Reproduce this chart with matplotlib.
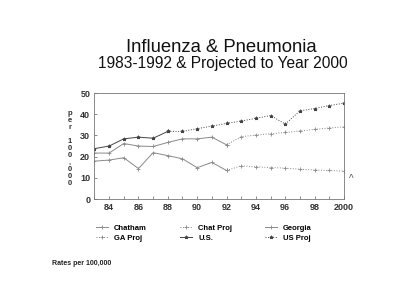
import matplotlib
matplotlib.use("Agg")
import matplotlib.pyplot as plt

years_actual = [1983, 1984, 1985, 1986, 1987, 1988, 1989, 1990, 1991, 1992]
chatham = [17.9, 18.4, 19.5, 14.4, 21.9, 20.5, 19.0, 14.8, 17.3, 13.5]
georgia = [21.7, 21.7, 26.2, 25.0, 24.8, 26.7, 28.4, 28.4, 29.2, 25.6]
us_years = [1983, 1984, 1985, 1986, 1987, 1988]
us = [23.8, 25.0, 28.4, 29.2, 28.7, 31.9]

proj_years = [1992, 1993, 1994, 1995, 1996, 1997, 1998, 1999, 2000]
chat_proj = [13.5, 15.7, 15.2, 14.9, 14.6, 14.1, 13.7, 13.5, 13.2]
ga_proj = [25.6, 29.4, 30.2, 30.8, 31.4, 32.1, 32.9, 33.5, 34.1]
us_proj_years = [1988, 1989, 1990, 1991, 1992, 1993, 1994, 1995, 1996, 1997, 1998, 1999, 2000]
us_proj = [31.9, 31.9, 33.2, 34.4, 35.7, 36.8, 38.1, 39.4, 35.4, 41.6, 42.7, 44.1, 45.2]

xticks = [1984, 1986, 1988, 1990, 1992, 1994, 1996, 1998, 2000]
xticklabels = ["84", "86", "88", "90", "92", "94", "96", "98", "2000"]
yticks = [0, 10, 20, 30, 40, 50]

plt.rcParams['font.family'] = ['Liberation Sans', 'DejaVu Sans']

fig = plt.figure(figsize=(4.0, 3.04), dpi=100)
ax = fig.add_axes([0.236, 0.345, 0.624, 0.349])

light = "#8a8a8a"
dark = "#444444"
ax.plot(years_actual, chatham, color=light, lw=0.7, marker="+", ms=2.5, mew=0.6, label="Chatham")
ax.plot(proj_years, chat_proj, color=light, lw=0.7, ls=":", marker="+", ms=2.5, mew=0.6, label="Chat Proj")
ax.plot(years_actual, georgia, color=light, lw=0.7, marker="+", ms=2.5, mew=0.6, label="Georgia")
ax.plot(proj_years, ga_proj, color=light, lw=0.7, ls=":", marker="+", ms=2.5, mew=0.6, label="GA Proj")
ax.plot(us_years, us, color=dark, lw=0.7, marker="*", ms=2.5, mew=0.6, label="U.S.")
ax.plot(us_proj_years, us_proj, color=dark, lw=0.7, ls=":", marker="*", ms=2.5, mew=0.6, label="US Proj")

ax.set_xlim(1983, 2000)
ax.set_ylim(0, 50)
ax.set_xticks(xticks)
ax.set_xticklabels(xticklabels, fontsize=6.5, fontweight="bold", color="#333333")
ax.set_xticks(range(1983, 2001), minor=True)
ax.set_yticks(yticks)
ax.set_yticklabels([str(v) for v in yticks], fontsize=6.5, fontweight="bold", color="#333333")
ax.tick_params(axis="both", which="both", length=2.5, width=0.6, color="#777777", direction="in", pad=3)
for s in ax.spines.values():
    s.set_linewidth(0.6)
    s.set_color("#777777")

# stacked y label
ylab = "\n".join(list("per 100,000"))
fig.text(0.175, 0.513, ylab, ha="center", va="center", fontsize=5.5, fontweight="bold",
         color="#333333", linespacing=1.0)

fig.text(0.553, 0.845, "Influenza & Pneumonia", ha="center", va="center", fontsize=13.3, color="#111111")
fig.text(0.556, 0.79, "1983-1992 & Projected to Year 2000", ha="center", va="center", fontsize=11.2, color="#111111")

ax.text(1.03, 0.19, "^", transform=ax.transAxes, fontsize=7, ha="center", va="center", color="#555555")

handles, labels = ax.get_legend_handles_labels()
order = [0, 3, 1, 4, 2, 5]
leg = fig.legend([handles[i] for i in order], [labels[i] for i in order], ncol=3,
                 loc="upper left", bbox_to_anchor=(0.222, 0.285), frameon=False,
                 handlelength=1.6, columnspacing=4.3, labelspacing=0.4,
                 handletextpad=0.8, prop={"weight": "bold", "size": 5.5})

fig.text(0.13, 0.128, "Rates per 100,000", fontsize=5, fontweight="bold", color="#222222")

fig.savefig("out.png", dpi=100, facecolor="white")
